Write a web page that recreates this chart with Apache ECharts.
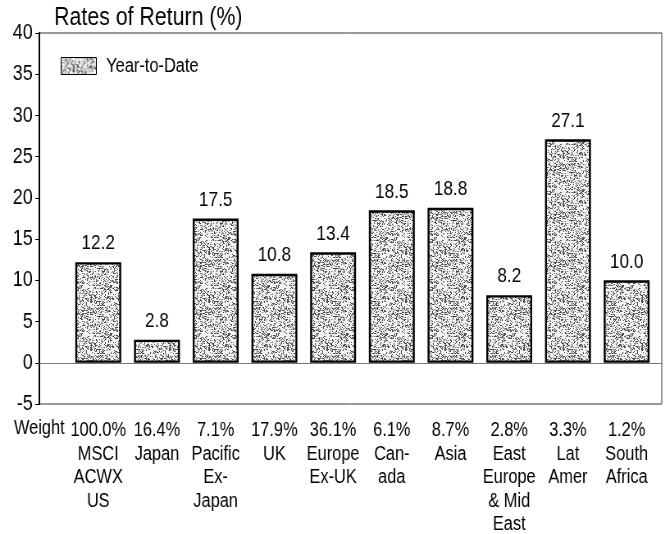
<!DOCTYPE html>
<html>
<head>
<meta charset="utf-8">
<script src="https://cdn.jsdelivr.net/npm/echarts@6/dist/echarts.min.js"></script>
<style>
	html, body { margin: 0; padding: 0; background: #fff; overflow: hidden; }
	/* 原图是窄体字，用横向压缩模拟 Arial Narrow */
	#chart { width: 813px; height: 534px; transform: scaleX(0.82); transform-origin: 0 0; }
</style>
</head>
<body>
<div id="chart"></div>
<script>
// 数据
const regions = ['MSCI\nACWX\nUS', 'Japan', 'Pacific\nEx-\nJapan', 'UK', 'Europe\nEx-UK', 'Can-\nada', 'Asia', 'East\nEurope\n& Mid\nEast', 'Lat\nAmer', 'South\nAfrica']
const weights = ['100.0%', '16.4%', '7.1%', '17.9%', '36.1%', '6.1%', '8.7%', '2.8%', '3.3%', '1.2%']
const ytdReturns = [12.2, 2.8, 17.5, 10.8, 13.4, 18.5, 18.8, 8.2, 27.1, 10.0]
const yTicks = [-5, 0, 5, 10, 15, 20, 25, 30, 35, 40]

const FONT = "'Liberation Sans', Arial, sans-serif"

/**
 * 点状纹理，模仿原图的灰色颗粒填充
 */
function makeStipple() {
	const size = 48
	const cvs = document.createElement('canvas')
	cvs.width = size
	cvs.height = size
	const ctx = cvs.getContext('2d')
	ctx.fillStyle = '#f4f4f4'
	ctx.fillRect(0, 0, size, size)
	ctx.fillStyle = '#4a4a4a'
	for (let y = 0; y < size; y++) {
		for (let x = 0; x < size; x++) {
			let h = Math.imul(x, 374761393) + Math.imul(y, 668265263)
			h = Math.imul(h ^ (h >>> 13), 1274126177)
			h = (h ^ (h >>> 16)) >>> 0
			if (h % 100 < 28) ctx.fillRect(x, y, 1, 1)
		}
	}
	return cvs
}

const stipple = { image: makeStipple(), repeat: 'repeat' }

const chart = echarts.init(document.getElementById('chart'), null, { renderer: 'canvas' })

const options = {
	animation: false,
	textStyle: { fontFamily: FONT },
	title: {
		text: 'Rates of Return (%)',
		left: 61,
		top: 0,
		textStyle: { fontFamily: FONT, fontSize: 26, fontWeight: 'normal', color: '#000' }
	},
	legend: {
		data: ['Year-to-Date'],
		left: 74,
		top: 56,
		padding: 0,
		itemWidth: 43,
		itemHeight: 17,
		icon: 'rect',
		itemStyle: { borderWidth: 1, borderColor: '#000' },
		textStyle: { fontFamily: FONT, fontSize: 20, color: '#000', padding: [0, 0, 0, 7] }
	},
	grid: [
		// 外框和y轴
		{ left: 48, right: 6, top: 33, bottom: 130, outerBoundsMode: 'none', show: true, borderColor: '#333', borderWidth: 1, backgroundColor: 'transparent' },
		// 柱子所在区域
		{ left: 84, right: 13, top: 33, bottom: 130, outerBoundsMode: 'none' }
	],
	xAxis: [
		{
			gridIndex: 0,
			type: 'category',
			data: [''],
			axisLine: { show: true, onZero: true, lineStyle: { color: '#777', width: 1 } },
			axisTick: { show: false },
			axisLabel: { show: false },
			splitLine: { show: false }
		},
		{
			gridIndex: 1,
			type: 'category',
			position: 'bottom',
			data: regions.map((r, i) => weights[i] + '\n' + r),
			axisLine: { show: false, onZero: false },
			axisTick: { show: false },
			axisLabel: {
				interval: 0,
				margin: 15,
				color: '#000',
				fontFamily: FONT,
				fontSize: 20,
				lineHeight: 23.5,
				align: 'center'
			}
		}
	],
	yAxis: [
		{
			gridIndex: 0,
			type: 'value',
			min: yTicks[0],
			max: yTicks[yTicks.length - 1],
			interval: 5,
			axisLine: { show: true, lineStyle: { color: '#000', width: 2 } },
			axisTick: { show: true, inside: false, length: 5, lineStyle: { color: '#000' } },
			axisLabel: { margin: 8, color: '#000', fontFamily: FONT, fontSize: 22 },
			splitLine: { show: false }
		},
		{
			gridIndex: 1,
			type: 'value',
			min: yTicks[0],
			max: yTicks[yTicks.length - 1],
			interval: 5,
			show: false
		}
	],
	graphic: [
		{
			type: 'text',
			left: 17,
			top: 418,
			style: { text: 'Weight', font: '20px ' + FONT, fill: '#000' }
		}
	],
	series: [
		{
			name: 'Year-to-Date',
			type: 'bar',
			xAxisIndex: 1,
			yAxisIndex: 1,
			barWidth: 56,
			data: ytdReturns,
			itemStyle: {
				color: stipple,
				borderColor: '#000',
				borderWidth: 2.4
			},
			label: {
				show: true,
				position: 'top',
				distance: 8,
				color: '#000',
				fontFamily: FONT,
				fontSize: 21,
				formatter: p => p.value.toFixed(1)
			}
		}
	]
}

chart.setOption(options)
</script>
</body>
</html>
